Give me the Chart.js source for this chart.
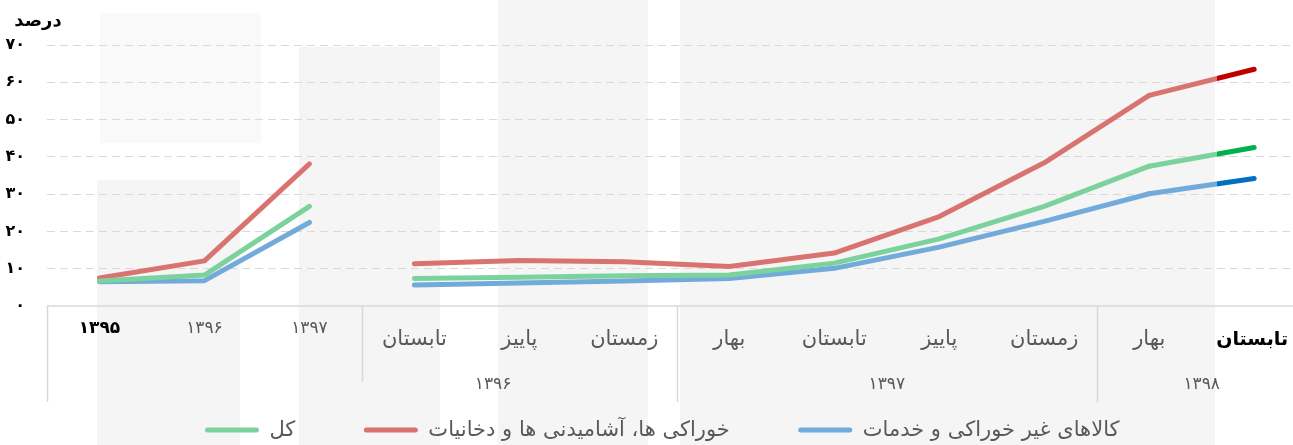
<!DOCTYPE html>
<html>
<head>
<meta charset="utf-8">
<script src="https://cdn.jsdelivr.net/npm/chart.js@4"></script>
<style>
  html, body { margin: 0; padding: 0; background: #fff; }
</style>
</head>
<body>
<canvas id="myChart" width="1293" height="445"></canvas>
<script>
var yearLabels = ["۱۳۹۵", "۱۳۹۶", "۱۳۹۷"];
var seasonLabels = ["تابستان", "پاییز", "زمستان", "بهار", "تابستان", "پاییز", "زمستان", "بهار", "تابستان"];
var groupLabels = ["۱۳۹۶", "۱۳۹۷", "۱۳۹۸"];
var yTickLabels = ["۰", "۱۰", "۲۰", "۳۰", "۴۰", "۵۰", "۶۰", "۷۰"];
var seriesNames = ["کل", "خوراکی ها، آشامیدنی ها و دخانیات", "کالاهای غیر خوراکی و خدمات"];

var totalValues = [6.7, 8.3, 26.7, 7.4, 7.7, 8.1, 8.3, 11.5, 18.0, 26.7, 37.5, 42.5];
var foodValues = [7.5, 12.1, 38.1, 11.3, 12.2, 11.9, 10.6, 14.2, 24.0, 38.4, 56.5, 63.5];
var nonFoodValues = [6.5, 6.8, 22.4, 5.6, 6.2, 6.7, 7.4, 10.1, 15.8, 22.7, 30.1, 34.2];

var canvas = document.getElementById("myChart");
var ctx = canvas.getContext("2d");
var FONT = "DejaVu Sans";

function points(values) {
  return values.map(function (v, i) { return { x: i, y: v }; });
}

// gap after the yearly points, last stretch in the strong colour
function segColor(light, dark) {
  return function (s) {
    if (s.p0DataIndex === 2) return "rgba(0,0,0,0)";
    if (s.p1DataIndex === 11) {
      var g = ctx.createLinearGradient(s.p0.x, 0, s.p1.x, 0);
      g.addColorStop(0, light);
      g.addColorStop(0.65, light);
      g.addColorStop(0.65, dark);
      g.addColorStop(1, dark);
      return g;
    }
    return light;
  };
}

function makeSet(label, values, light, dark) {
  return {
    label: label,
    data: points(values),
    borderColor: light,
    backgroundColor: light,
    borderWidth: 5,
    borderCapStyle: "round",
    borderJoinStyle: "round",
    pointRadius: 0,
    tension: 0,
    segment: { borderColor: segColor(light, dark) }
  };
}

var decor = {
  id: "decor",
  beforeDraw: function (chart) {
    var c = chart.ctx;
    c.save();
    c.fillStyle = "#f5f5f5";
    c.fillRect(97, 180, 143, 265);
    c.fillRect(299, 47, 141, 398);
    c.fillRect(498, 0, 150, 445);
    c.fillRect(680, 0, 535, 445);
    c.fillStyle = "#f9f9f9";
    c.fillRect(100, 13, 161, 130);
    c.restore();
  },
  afterDraw: function (chart) {
    var c = chart.ctx, xs = chart.scales.x, a = chart.chartArea;
    c.save();
    c.strokeStyle = "#d9d9d9";
    c.lineWidth = 1.5;
    c.beginPath();
    c.moveTo(a.left, a.bottom);
    c.lineTo(a.right, a.bottom);
    var seps = [[-0.5, 402], [2.5, 382], [5.5, 402], [9.5, 402]];
    seps.forEach(function (s) {
      var px = Math.round(xs.getPixelForValue(s[0])) + 0.5;
      c.moveTo(px, a.bottom);
      c.lineTo(px, s[1]);
    });
    c.stroke();

    c.textAlign = "center";
    c.textBaseline = "middle";
    yearLabels.forEach(function (t, i) {
      c.font = (i === 0 ? "bold " : "") + "17px '" + FONT + "'";
      c.fillStyle = i === 0 ? "#000" : "#595959";
      c.fillText(t, xs.getPixelForValue(i), 329);
    });
    seasonLabels.forEach(function (t, i) {
      var last = i === seasonLabels.length - 1;
      c.font = last ? "bold 19px '" + FONT + "'" : "21px '" + FONT + "'";
      c.fillStyle = last ? "#000" : "#595959";
      c.fillText(t, xs.getPixelForValue(i + 3) - (last ? 2 : 0), 340);
    });
    var groupAt = [3.75, 7.5, 10.5];
    c.font = "17px '" + FONT + "'";
    c.fillStyle = "#595959";
    groupLabels.forEach(function (t, i) {
      c.fillText(t, xs.getPixelForValue(groupAt[i]), 385);
    });

    c.font = "bold 18px '" + FONT + "'";
    c.fillStyle = "#000";
    c.fillText("درصد", 38, 21);

    // legend: line swatch on the left of each name
    var sets = chart.data.datasets, gap = 68, sw = 55, pad = 10, ly = 430;
    c.font = "21px '" + FONT + "'";
    var widths = sets.map(function (d) { return c.measureText(d.label).width; });
    var total = gap * (sets.length - 1);
    widths.forEach(function (w) { total += sw + pad + w; });
    var x = 662 - total / 2;
    c.textAlign = "left";
    c.lineCap = "round";
    c.lineWidth = 5;
    sets.forEach(function (d, i) {
      c.strokeStyle = d.borderColor;
      c.beginPath();
      c.moveTo(x + 3, ly);
      c.lineTo(x + sw - 3, ly);
      c.stroke();
      c.fillStyle = "#595959";
      c.fillText(d.label, x + sw + pad, ly + 1);
      x += sw + pad + widths[i] + gap;
    });
    c.restore();
  }
};

var myChart = new Chart(ctx, {
  type: "line",
  data: {
    datasets: [
      makeSet(seriesNames[0], totalValues, "#7cd29d", "#00b050"),
      makeSet(seriesNames[1], foodValues, "#d97370", "#c00000"),
      makeSet(seriesNames[2], nonFoodValues, "#72aada", "#0070c0")
    ]
  },
  options: {
    responsive: false,
    animation: false,
    devicePixelRatio: 1,
    layout: { padding: { top: 45, left: 0, right: 0, bottom: 43 } },
    scales: {
      x: {
        type: "linear",
        min: -0.5,
        max: 11.37,
        grid: { display: false },
        border: { display: false },
        ticks: { display: false },
        afterFit: function (s) { s.height = 96; }
      },
      y: {
        min: 0,
        max: 70,
        afterFit: function (s) { s.width = 47; },
        grid: {
          drawTicks: false,
          color: function (c) { return c.tick.value === 0 ? "rgba(0,0,0,0)" : "#d9d9d9"; }
        },
        border: { display: false, dash: [8, 5] },
        ticks: {
          stepSize: 10,
          padding: 22,
          color: "#000",
          font: { family: FONT, size: 16, weight: "bold" },
          callback: function (v) { return yTickLabels[v / 10]; }
        }
      }
    },
    plugins: {
      legend: { display: false },
      tooltip: { enabled: false }
    }
  },
  plugins: [decor]
});
</script>
</body>
</html>
